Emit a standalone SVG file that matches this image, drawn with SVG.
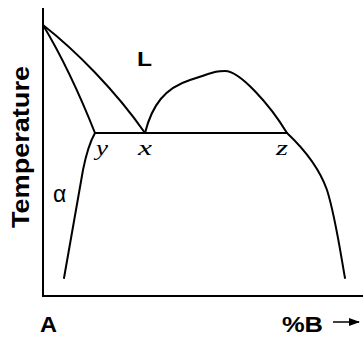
<svg xmlns="http://www.w3.org/2000/svg" width="363" height="338" viewBox="0 0 363 338">
<defs>
<style>
.ln{fill:none;stroke:#000;stroke-width:2;stroke-linecap:round;stroke-linejoin:round}
.ax{fill:none;stroke:#000;stroke-width:2}
.sans{font-family:"Liberation Sans",Arial,sans-serif;font-weight:bold}
.it{font-family:"Liberation Serif","Times New Roman",serif;font-style:italic}
</style>
<marker id="ah" markerWidth="11" markerHeight="8" refX="10" refY="4" orient="auto" markerUnits="userSpaceOnUse">
<path d="M0,0 L11,4 L0,8 Z" fill="#000"/>
</marker>
</defs>
<g id="axes">
<path class="ax" d="M43,8 V296 H363"/>
</g>
<g id="curves">
<path id="liquidus-left" class="ln" d="M43,25 C75,50 115,90 145,133"/>
<path id="solidus-left" class="ln" d="M43,25 Q70,70 95,133"/>
<path id="dome" class="ln" d="M145,133 C152,105 165,88 190,80 S215,71 225,71 C240,71 270,105 287,133"/>
<path id="eutectic" class="ln" d="M95,133 H287"/>
<path id="solvus-right" class="ln" d="M287,133 C305,150 320,170 327,190 C335,215 340,250 345,278"/>
<path id="solvus-left" class="ln" d="M95,133 C91,140 86,155 83,170 L64,278"/>
</g>
<g id="labels">
<text class="sans" x="137" y="66" font-size="21" textLength="15" lengthAdjust="spacingAndGlyphs">L</text>
<text class="it" x="96" y="155" font-size="22" textLength="12" lengthAdjust="spacingAndGlyphs">y</text>
<text class="it" x="138" y="155" font-size="22" textLength="14" lengthAdjust="spacingAndGlyphs">x</text>
<text class="it" x="276" y="155" font-size="22" textLength="12" lengthAdjust="spacingAndGlyphs">z</text>
<text x="53" y="202" font-size="23" font-family="'Liberation Sans',Arial,sans-serif">α</text>
<text class="sans" transform="translate(29,228) rotate(-90)" x="0" y="0" font-size="23" textLength="162" lengthAdjust="spacingAndGlyphs">Temperature</text>
<text class="sans" x="40" y="332" font-size="22" textLength="17" lengthAdjust="spacingAndGlyphs">A</text>
<text class="sans" x="282" y="332" font-size="22" textLength="41" lengthAdjust="spacingAndGlyphs">%B</text>
</g>
<g id="connectors">
<line x1="333" y1="322" x2="359" y2="322" stroke="#000" stroke-width="1.5" marker-end="url(#ah)"/>
</g>
</svg>
